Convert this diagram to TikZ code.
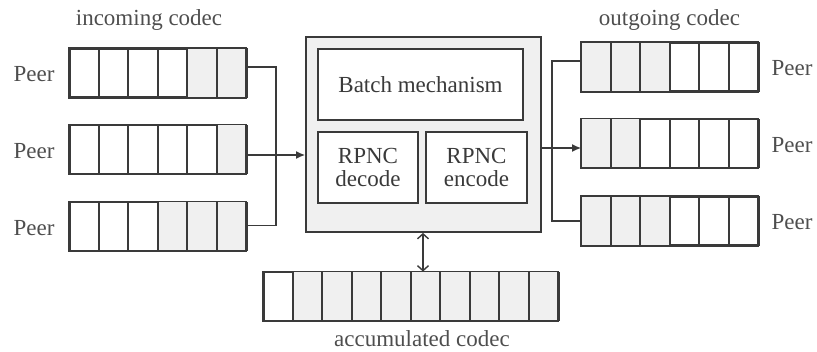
\documentclass[tikz,border=0pt]{standalone}
\usepackage{fontspec}
\setmainfont{Liberation Serif}
\usetikzlibrary{arrows.meta}
\definecolor{edge}{HTML}{3A3A3A}
\definecolor{cellgray}{HTML}{F0F0F0}
\tikzset{
  lbl/.style={font=\fontsize{23}{26}\selectfont, text=edge!90!white, inner sep=0pt},
  bar/.style={draw=edge, line width=1.8pt, inner sep=0pt, minimum height=48pt},
  box/.style={draw=edge, line width=1.8pt, fill=white, inner sep=0pt, align=center,
    font=\fontsize{23}{25}\selectfont, text=edge},
  wire/.style={draw=edge, line width=1.4pt},
}
% \codecbar{name}{center}{cells}{shaded cell list}
\newcommand{\codecbar}[4]{%
  \node[bar, minimum width=#3*29.5pt] (#1) at (#2) {};
  \foreach \k in {#4} {
    \fill[cellgray] ([xshift={(\k-1)*29.5pt}]#1.north west) rectangle ([xshift={\k*29.5pt}]#1.south west);
  }
  \foreach \k in {1,...,#3} {
    \draw[edge, line width=1.8pt] ([xshift={(\k-1)*29.5pt}]#1.north west) rectangle ([xshift={\k*29.5pt}]#1.south west);
  }
}
\begin{document}
\begin{tikzpicture}[x=1pt, y=-1pt]
\useasboundingbox (0,0) rectangle (817,352);

% titles
\node[lbl] (tin) at (149,20) {incoming codec};
\node[lbl] (tout) at (669.5,20) {outgoing codec};
\node[lbl] (tacc) at (422,339) {accumulated codec};

% incoming queues
\codecbar{L1}{158.5,73}{6}{5,6}
\codecbar{L2}{158.5,149.5}{6}{6}
\codecbar{L3}{158.5,226.5}{6}{4,5,6}
\node[lbl] (pl1) at (34,74) {Peer};
\node[lbl] (pl2) at (34,151) {Peer};
\node[lbl] (pl3) at (34,228) {Peer};

% outgoing queues
\codecbar{R1}{670.5,67}{6}{1,2,3}
\codecbar{R2}{670.5,143.5}{6}{1,2}
\codecbar{R3}{670.5,221}{6}{1,2,3}
\node[lbl] (pr1) at (792,68) {Peer};
\node[lbl] (pr2) at (792,145) {Peer};
\node[lbl] (pr3) at (792,222) {Peer};

% accumulated buffer
\codecbar{A}{411.5,296.5}{10}{2,3,4,5,6,7,8,9,10}

% processing block
\node[draw=edge, line width=1.8pt, fill=cellgray, minimum width=235pt, minimum height=195pt, inner sep=0pt] (core) at (423.5,134.5) {};
\node[box, minimum width=205pt, minimum height=71pt] (batch) at (420.5,84.5) {Batch mechanism};
\node[box, minimum width=100pt, minimum height=71pt] (dec) at (368,167.5) {RPNC\\[-2pt]decode};
\node[box, minimum width=101pt, minimum height=71pt] (enc) at (476.5,167.5) {RPNC\\[-2pt]encode};

% incoming merge
\coordinate (jl) at (276,155);
\draw[wire] ([yshift=6pt]L1.east) -| (jl) |- ([yshift=1pt]L3.east);
\draw[wire] ([yshift=-5.5pt]L2.east) -- (jl);
\draw[wire, -{Latex[length=9pt,width=8pt]}] (jl) -- (core.west |- jl);

% outgoing split
\coordinate (jr) at (552,148);
\draw[wire] ([yshift=6pt]R1.west) -| (jr) |- (R3.west);
\draw[wire, -{Latex[length=9pt,width=8pt]}] (core.east |- jr) -- (R2.west |- jr);

% exchange with accumulated buffer
\draw[wire, {Straight Barb[length=5pt,width=11pt]}-{Straight Barb[length=5pt,width=11pt]}] (core.south -| 423,0) -- (A.north -| 423,0);
\end{tikzpicture}
\end{document}
